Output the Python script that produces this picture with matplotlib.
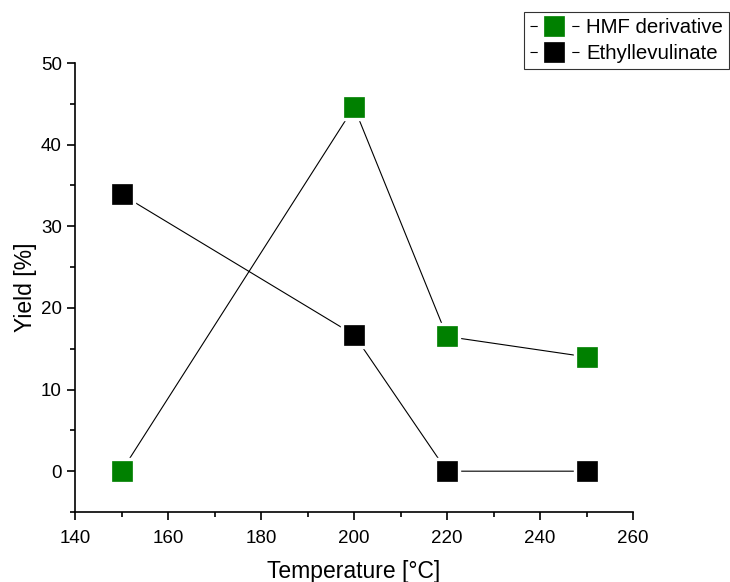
import matplotlib.pyplot as plt
from matplotlib.lines import Line2D
from matplotlib.ticker import MultipleLocator

plt.rcParams['font.family'] = ['Liberation Sans', 'DejaVu Sans']
plt.rcParams['lines.scale_dashes'] = False

temp = [150, 200, 220, 250]
hmf = [0, 44.6, 16.5, 14.0]
ethyl = [33.9, 16.7, 0, 0]

fig = plt.figure(figsize=(7.3, 5.82), dpi=100)
ax = fig.add_axes([75/730, 70/582, (633-75)/730, (512-63)/582])

ms = 13.7
leg_fs = 14.7
hl = 2.4
L = hl * leg_fs          # handle length in points
d = 5.2                  # short dash each side of legend marker
handles = []
for y, c, lab in [(hmf, 'green', 'HMF derivative'), (ethyl, 'black', 'Ethyllevulinate')]:
    ax.plot(temp, y, color='black', lw=0.8, zorder=1)
    ax.plot(temp, y, 's', ms=ms + 5, mfc='white', mec='white', zorder=2)
    ax.plot(temp, y, 's', ms=ms, mfc=c, mec=c, mew=0.5, zorder=3)
    h = Line2D([], [], color='black', lw=0.8, ls=(0, (d, L - 2*d)),
               marker='s', ms=ms, mfc=c, mec=c, mew=0.5)
    handles.append((h, lab))

ax.set_xlim(140, 260)
ax.set_ylim(-5, 50)
ax.xaxis.set_major_locator(MultipleLocator(20))
ax.xaxis.set_minor_locator(MultipleLocator(10))
ax.yaxis.set_major_locator(MultipleLocator(10))
ax.yaxis.set_minor_locator(MultipleLocator(5))
ax.spines['top'].set_visible(False)
ax.spines['right'].set_visible(False)
for s in ['left', 'bottom']:
    ax.spines[s].set_linewidth(1.2)
ax.tick_params(which='major', direction='out', length=6, width=1.2, labelsize=13.5)
ax.tick_params(axis='x', which='major', pad=7)
ax.tick_params(which='minor', direction='out', length=3.5, width=1.2)
ax.set_xlabel('Temperature [°C]', fontsize=16.5, labelpad=9)
ax.set_ylabel('Yield [%]', fontsize=16.5, labelpad=3)

leg = fig.legend([h for h, _ in handles], [l for _, l in handles],
                 loc='upper right', bbox_to_anchor=(729/730, 1 - 12/582),
                 fontsize=leg_fs, frameon=True, fancybox=False, edgecolor='black',
                 handlelength=hl, handletextpad=0.35, borderpad=0.3,
                 labelspacing=0.35, borderaxespad=0)
leg.get_frame().set_linewidth(0.8)

fig.savefig('out.png', dpi=100)
